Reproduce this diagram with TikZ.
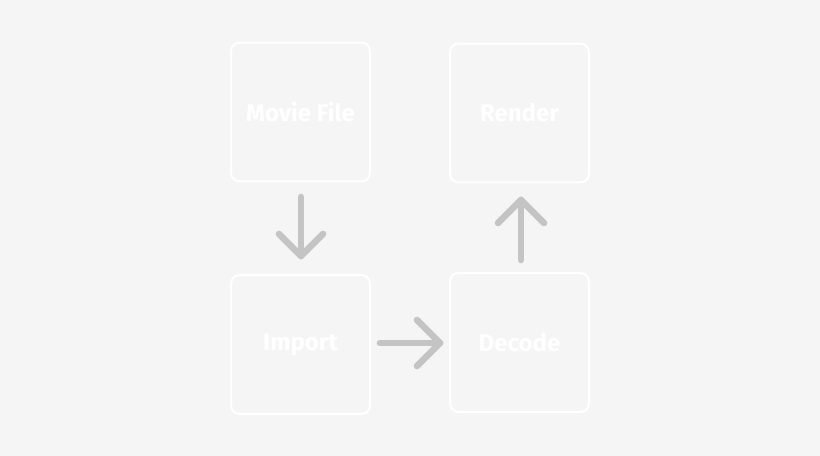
\documentclass[tikz,border=0pt]{standalone}
\usepackage{fontspec}
\setmainfont{Fira Sans}
\definecolor{bgc}{HTML}{F5F5F5}
\definecolor{arrc}{HTML}{C4C4C4}
\begin{document}
\begin{tikzpicture}[x=0.75pt,y=-0.75pt,
  stagebox/.style={draw=white,line width=1.5pt,rounded corners=6pt,minimum width=104pt,minimum height=104pt,
    text=white,font=\bfseries\fontsize{18}{21}\selectfont,inner sep=0pt},
  flow/.style={draw=arrc,line width=5pt,line cap=round,line join=round}]
\fill[bgc] (0,0) rectangle (820,456);
\useasboundingbox (0,0) rectangle (820,456);
\node[stagebox] (movie) at (300.5,112) {Movie File};
\node[stagebox] (render) at (519.5,113) {Render};
\node[stagebox] (import) at (300.5,344.5) {Import};
\node[stagebox] (decode) at (519.5,342.5) {Decode};
% down arrow
\coordinate (d1) at (301,197);
\coordinate (d2) at (301,256);
\coordinate (d3) at (279,234);
\coordinate (d4) at (323,234);
\draw[flow] (d1) -- (d2);
\draw[flow] (d3) -- (d2) -- (d4);
% right arrow
\coordinate (r1) at (380,343);
\coordinate (r2) at (440,343);
\coordinate (r3) at (417,320);
\coordinate (r4) at (417,366);
\draw[flow] (r1) -- (r2);
\draw[flow] (r3) -- (r2) -- (r4);
% up arrow
\coordinate (u1) at (521,260);
\coordinate (u2) at (521,200);
\coordinate (u3) at (498,223);
\coordinate (u4) at (544,223);
\draw[flow] (u1) -- (u2);
\draw[flow] (u3) -- (u2) -- (u4);
\end{tikzpicture}
\end{document}
